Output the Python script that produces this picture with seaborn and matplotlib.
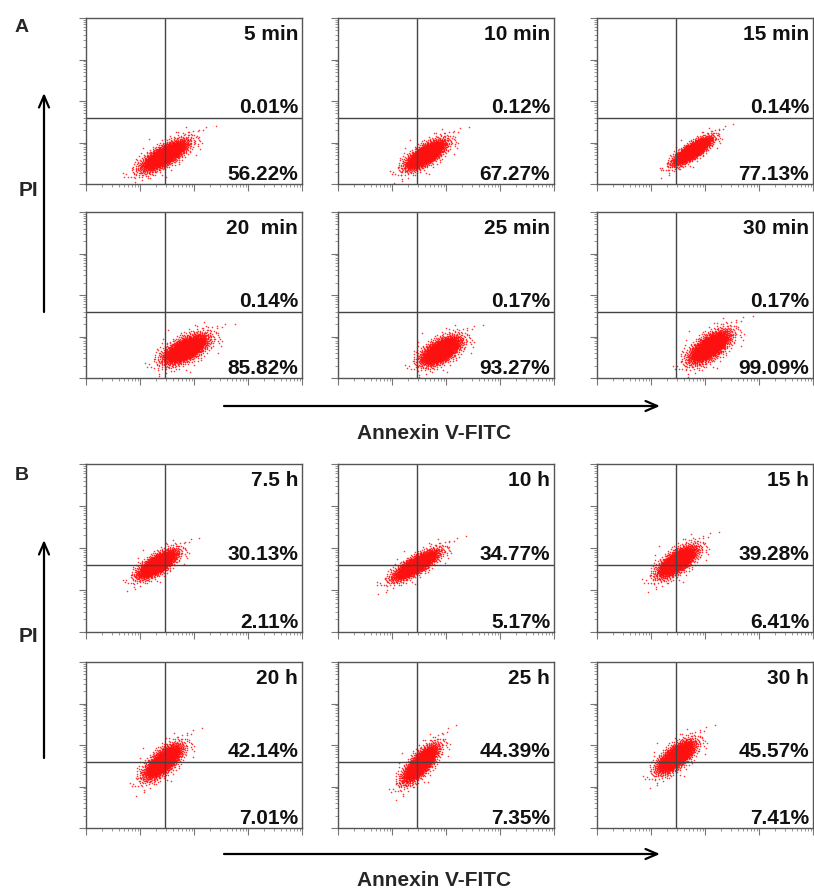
import numpy as np
import pandas as pd
import matplotlib
matplotlib.use("Agg")
import matplotlib.pyplot as plt
import matplotlib.ticker as mticker
import seaborn as sns

sns.set_theme(style="white")
plt.rcParams["font.family"] = ["Liberation Sans", "DejaVu Sans"]

# ---- Panel A: short exposure (minutes) ----
a_titles = ["5 min", "10 min", "15 min", "20  min", "25 min", "30 min"]
a_upper_pct = ["0.01%", "0.12%", "0.14%", "0.14%", "0.17%", "0.17%"]
a_lower_pct = ["56.22%", "67.27%", "77.13%", "85.82%", "93.27%", "99.09%"]
# population centre (log10 units), spread along / across the main axis, tilt (deg)
a_cx = [1.45, 1.62, 1.76, 1.84, 1.90, 2.08]
a_cy = [0.69, 0.71, 0.80, 0.70, 0.66, 0.75]
a_major = [0.23, 0.20, 0.19, 0.21, 0.19, 0.21]
a_minor = [0.085, 0.08, 0.06, 0.10, 0.095, 0.095]
a_angle = [40, 43, 43, 38, 42, 47]

# ---- Panel B: long exposure (hours) ----
b_titles = ["7.5 h", "10 h", "15 h", "20 h", "25 h", "30 h"]
b_upper_pct = ["30.13%", "34.77%", "39.28%", "42.14%", "44.39%", "45.57%"]
b_lower_pct = ["2.11%", "5.17%", "6.41%", "7.01%", "7.35%", "7.41%"]
b_cx = [1.32, 1.44, 1.48, 1.42, 1.52, 1.46]
b_cy = [1.62, 1.60, 1.68, 1.60, 1.55, 1.72]
b_major = [0.19, 0.22, 0.20, 0.21, 0.22, 0.20]
b_minor = [0.075, 0.07, 0.085, 0.085, 0.075, 0.085]
b_angle = [42, 39, 46, 52, 57, 50]

# quadrant gates (log10 units)
gate_x = 1.47
gate_y = 1.60
n_events = 3000

W, H = 814, 892
fig = plt.figure(figsize=(W / 100, H / 100), dpi=100)


def fy(py):
    return H - py


def events(cx, cy, major, minor, angle, n=n_events):
    """Deterministic low-discrepancy (R2) sample of a tilted population with soft tails."""
    g = 1.32471795724474602596
    k = np.arange(1, n + 1)
    u1 = (0.5 + k / g) % 1.0
    u2 = (0.5 + k / g ** 2) % 1.0
    u1 = np.clip(u1, 1e-6, 1 - 1e-6)
    r = np.sqrt(-2.0 * np.log(u1))
    r = r * (1.0 + 0.025 * r ** 2)
    z1 = r * np.cos(2 * np.pi * u2)
    z2 = r * np.sin(2 * np.pi * u2)
    a = np.deg2rad(angle)
    lx = cx + major * z1 * np.cos(a) - minor * z2 * np.sin(a)
    ly = cy + major * z1 * np.sin(a) + minor * z2 * np.cos(a)
    return pd.DataFrame({"annexin": 10 ** lx, "pi": 10 ** ly})


col_left = [86, 338, 597]
panel_w = 216


def draw_panel(left, top, height, title, upper, lower, cx, cy, major, minor, angle):
    ax = fig.add_axes([left / W, (H - top - height) / H, panel_w / W, height / H])
    df = events(cx, cy, major, minor, angle)
    sns.scatterplot(data=df, x="annexin", y="pi", ax=ax, s=1.3, color="#ff1010",
                    linewidth=0, alpha=0.85, legend=False, rasterized=True)
    ax.set_xscale("log")
    ax.set_yscale("log")
    ax.set_xlim(1, 1e4)
    ax.set_ylim(1, 1e4)
    ax.axvline(10 ** gate_x, color="#444444", lw=1.0)
    ax.axhline(10 ** gate_y, color="#444444", lw=1.0)
    for axis in (ax.xaxis, ax.yaxis):
        axis.set_major_locator(mticker.LogLocator(base=10, numticks=10))
        axis.set_minor_locator(mticker.LogLocator(base=10, subs=np.arange(2, 10), numticks=20))
        axis.set_major_formatter(mticker.NullFormatter())
        axis.set_minor_formatter(mticker.NullFormatter())
    ax.tick_params(which="major", direction="out", length=5, width=0.8, color="#777777",
                   bottom=True, left=True, top=False, right=False)
    ax.tick_params(which="minor", direction="out", length=2.5, width=0.6, color="#888888",
                   bottom=True, left=True, top=False, right=False)
    for sp in ax.spines.values():
        sp.set_color("#555555")
        sp.set_linewidth(1.0)
    ax.set_xlabel("")
    ax.set_ylabel("")
    ax.grid(False)
    fs = 15
    ax.text(0.982, 0.958, title, transform=ax.transAxes, ha="right", va="top",
            fontsize=fs, fontweight="bold", color="#111111")
    ax.text(0.982, 0.43, upper, transform=ax.transAxes, ha="right", va="baseline",
            fontsize=fs, fontweight="bold", color="#111111")
    ax.text(0.982, 0.025, lower, transform=ax.transAxes, ha="right", va="baseline",
            fontsize=fs, fontweight="bold", color="#111111")
    return ax


rows = [
    (18, 166, a_titles[:3], a_upper_pct[:3], a_lower_pct[:3], a_cx[:3], a_cy[:3], a_major[:3], a_minor[:3], a_angle[:3]),
    (212, 166, a_titles[3:], a_upper_pct[3:], a_lower_pct[3:], a_cx[3:], a_cy[3:], a_major[3:], a_minor[3:], a_angle[3:]),
    (464, 168, b_titles[:3], b_upper_pct[:3], b_lower_pct[:3], b_cx[:3], b_cy[:3], b_major[:3], b_minor[:3], b_angle[:3]),
    (662, 166, b_titles[3:], b_upper_pct[3:], b_lower_pct[3:], b_cx[3:], b_cy[3:], b_major[3:], b_minor[3:], b_angle[3:]),
]
for top, h, ts, ups, lows, cxs, cys, mjs, mns, angs in rows:
    for i in range(3):
        draw_panel(col_left[i], top, h, ts[i], ups[i], lows[i], cxs[i], cys[i], mjs[i], mns[i], angs[i])

# section letters, axis captions and arrows
arrow_kw = dict(arrowstyle="->,head_length=0.7,head_width=0.3", lw=1.6, color="black",
                shrinkA=0, shrinkB=0)
for letter, ly, pi_y, v_top, v_bot, h_y, lab_y in [("A", 27, 191, 93, 312, 406, 434),
                                                     ("B", 475, 637, 540, 758, 854, 881)]:
    fig.text(15 / W, fy(ly) / H, letter, fontsize=14, fontweight="bold", va="center", ha="left")
    fig.text(28 / W, fy(pi_y) / H, "PI", fontsize=15, fontweight="bold", va="center", ha="center")
    fig.add_artist(plt.Annotation("", xy=(44, fy(v_top)), xytext=(44, fy(v_bot)),
                                  xycoords="figure pixels", textcoords="figure pixels",
                                  arrowprops=arrow_kw))
    fig.add_artist(plt.Annotation("", xy=(660, fy(h_y)), xytext=(224, fy(h_y)),
                                  xycoords="figure pixels", textcoords="figure pixels",
                                  arrowprops=arrow_kw))
    fig.text(434 / W, fy(lab_y) / H, "Annexin V-FITC", fontsize=15, fontweight="bold",
             va="center", ha="center")

fig.savefig("out.png", dpi=100, facecolor="white")
